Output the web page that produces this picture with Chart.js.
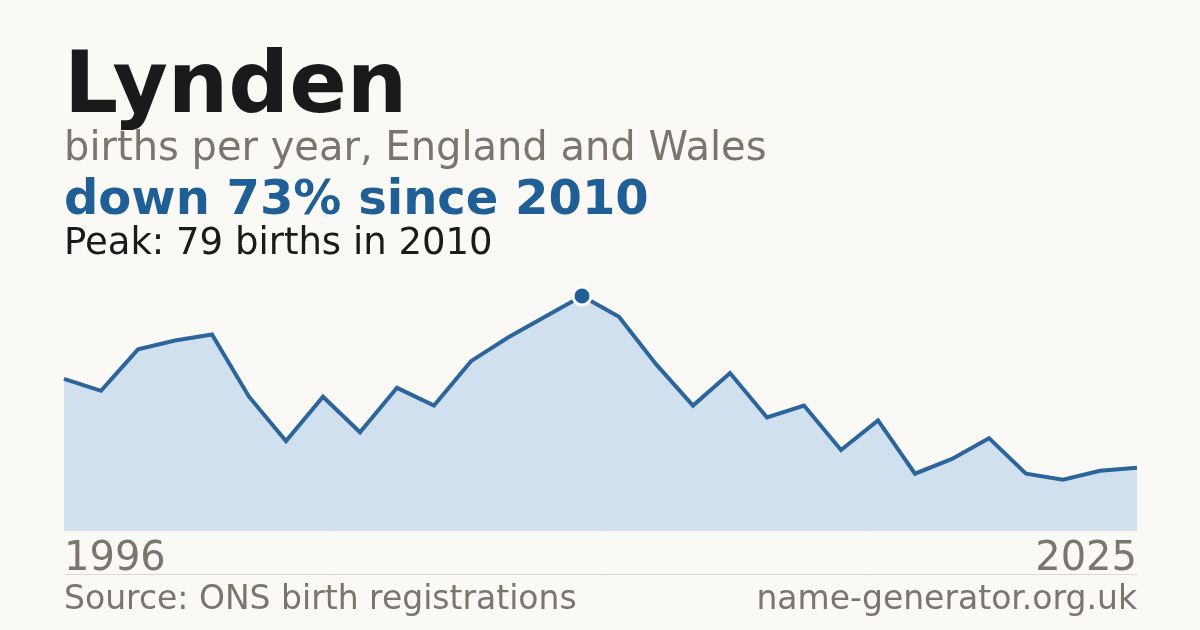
<!DOCTYPE html>
<html>
<head>
<meta charset="utf-8">
<script src="https://cdn.jsdelivr.net/npm/chart.js@4/dist/chart.umd.min.js"></script>
<style>
  html, body { margin: 0; padding: 0; background: #faf9f5; }
  #wrap { width: 1200px; height: 630px; position: relative; }
</style>
</head>
<body>
<div id="wrap"><canvas id="chart" width="1200" height="630"></canvas></div>
<script>
var years = [];
for (var y = 1996; y <= 2025; y++) years.push(String(y));

var births = [51, 47, 61, 64, 66, 45, 30, 45, 33, 48, 42, 57, 65, 72, 79,
              72, 56, 42, 53, 38, 42, 27, 37, 19, 24, 31, 19, 17, 20, 21];

var title = "Lynden";
var subtitle = "births per year, England and Wales";
var headline = "down 73% since 2010";
var peakNote = "Peak: 79 births in 2010";
var source = "Source: ONS birth registrations";
var site = "name-generator.org.uk";

var FONT = "'DejaVu Sans', sans-serif";
var peakIdx = births.indexOf(Math.max.apply(null, births));

const textPlugin = {
  id: "texts",
  beforeDraw(chart) {
    const ctx = chart.ctx;
    const area = chart.chartArea;
    ctx.save();
    ctx.fillStyle = "#faf9f5";
    ctx.fillRect(0, 0, chart.width, chart.height);
    ctx.textBaseline = "alphabetic";
    ctx.textAlign = "left";

    ctx.fillStyle = "#1a1a1a";
    ctx.font = "bold 85px " + FONT;
    ctx.fillText(title, 64, 112);

    ctx.fillStyle = "#7a756d";
    ctx.font = "40px " + FONT;
    ctx.fillText(subtitle, 64, 160);

    ctx.fillStyle = "#1f5f96";
    ctx.font = "bold 48px " + FONT;
    ctx.fillText(headline, 64, 214);

    ctx.fillStyle = "#1a1a1a";
    ctx.font = "37px " + FONT;
    ctx.fillText(peakNote, 64, 254);

    // baseline under the area
    ctx.strokeStyle = "#e4e0d8";
    ctx.lineWidth = 1;
    ctx.beginPath();
    ctx.moveTo(area.left, area.bottom + 0.5);
    ctx.lineTo(area.right, area.bottom + 0.5);
    ctx.stroke();

    // first / last year
    ctx.fillStyle = "#7a756d";
    ctx.font = "40px " + FONT;
    ctx.fillText(years[0], area.left, 570);
    ctx.textAlign = "right";
    ctx.fillText(years[years.length - 1], area.right, 570);

    // separator
    ctx.strokeStyle = "#dcd8d0";
    ctx.beginPath();
    ctx.moveTo(area.left, 574.5);
    ctx.lineTo(area.right, 574.5);
    ctx.stroke();

    ctx.font = "33px " + FONT;
    ctx.textAlign = "left";
    ctx.fillText(source, area.left, 609);
    ctx.textAlign = "right";
    ctx.fillText(site, area.right, 609);
    ctx.restore();
  },
};

new Chart(document.getElementById("chart"), {
  type: "line",
  data: {
    labels: years,
    datasets: [
      {
        data: births,
        borderColor: "#2b659b",
        borderWidth: 4,
        backgroundColor: "#d0e0ef",
        fill: "origin",
        tension: 0,
        clip: false,
        pointRadius: (c) => (c.dataIndex === peakIdx ? 9 : 0),
        pointBackgroundColor: "#1f5f96",
        pointBorderColor: "#ffffff",
        pointBorderWidth: 3,
        pointHoverRadius: 0,
      },
    ],
  },
  options: {
    responsive: false,
    animation: false,
    events: [],
    layout: { padding: { left: 64, right: 63, top: 296, bottom: 100 } },
    plugins: { legend: { display: false }, tooltip: { enabled: false } },
    scales: {
      x: { display: false },
      y: { display: false, min: 0, max: 79 },
    },
  },
  plugins: [textPlugin],
});
</script>
</body>
</html>
